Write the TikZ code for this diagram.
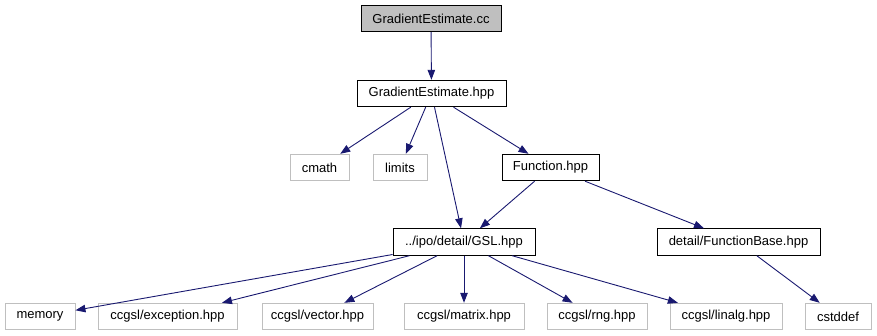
\documentclass[tikz,border=0pt]{standalone}
\usepackage{fontspec}
\setmainfont{Liberation Sans}
\usetikzlibrary{arrows.meta}
\definecolor{edgec}{HTML}{191970}
\definecolor{grayb}{HTML}{BFBFBF}
\tikzset{
  box/.style={draw=black, line width=0.9pt, fill=white, inner sep=0pt, minimum height=26.5pt, font=\fontsize{13}{14}\selectfont},
  mainbox/.style={box, fill=grayb},
  extbox/.style={box, draw=grayb},
  dep/.style={draw=edgec, line width=0.9pt, -{Triangle[length=10pt,width=7.5pt]}},
}
\begin{document}
\begin{tikzpicture}[x=1pt,y=-1pt]
\useasboundingbox (0,0) rectangle (877,336);
\node[mainbox, minimum width=140pt] (cc) at (431,18.5) {GradientEstimate.cc};
\node[box, minimum width=149pt] (hpp) at (431.5,93.5) {GradientEstimate.hpp};
\node[extbox, minimum width=59pt] (cmath) at (319.5,167.5) {cmath};
\node[extbox, minimum width=54pt] (limits) at (400,167.5) {limits};
\node[box, minimum width=97pt] (func) at (550.5,167.5) {Function.hpp};
\node[box, minimum width=142pt] (gsl) at (464,242) {../ipo/detail/GSL.hpp};
\node[box, minimum width=163pt] (fb) at (738.5,242) {detail/FunctionBase.hpp};
\node[extbox, minimum width=70pt] (memory) at (40,316.5) {memory};
\node[extbox, minimum width=139pt] (exc) at (167.5,316.5) {ccgsl/exception.hpp};
\node[extbox, minimum width=111pt] (vec) at (317.5,316.5) {ccgsl/vector.hpp};
\node[extbox, minimum width=120pt] (mat) at (464,316.5) {ccgsl/matrix.hpp};
\node[extbox, minimum width=100pt] (rng) at (597,316.5) {ccgsl/rng.hpp};
\node[extbox, minimum width=112pt] (lin) at (726,316.5) {ccgsl/linalg.hpp};
\node[extbox, minimum width=66pt] (cstd) at (838,316.5) {cstddef};
\draw[dep] (cc) -- (hpp);
\draw[dep] (hpp) -- (cmath);
\draw[dep] (hpp) -- (limits);
\draw[dep] (hpp) -- (gsl);
\draw[dep] (hpp) -- (func);
\draw[dep] (func) -- (gsl);
\draw[dep] (func) -- (fb);
\draw[dep] (gsl) -- (memory);
\draw[dep] (gsl) -- (exc);
\draw[dep] (gsl) -- (vec);
\draw[dep] (gsl) -- (mat);
\draw[dep] (gsl) -- (rng);
\draw[dep] (gsl) -- (lin);
\draw[dep] (fb) -- (cstd);
\end{tikzpicture}
\end{document}
